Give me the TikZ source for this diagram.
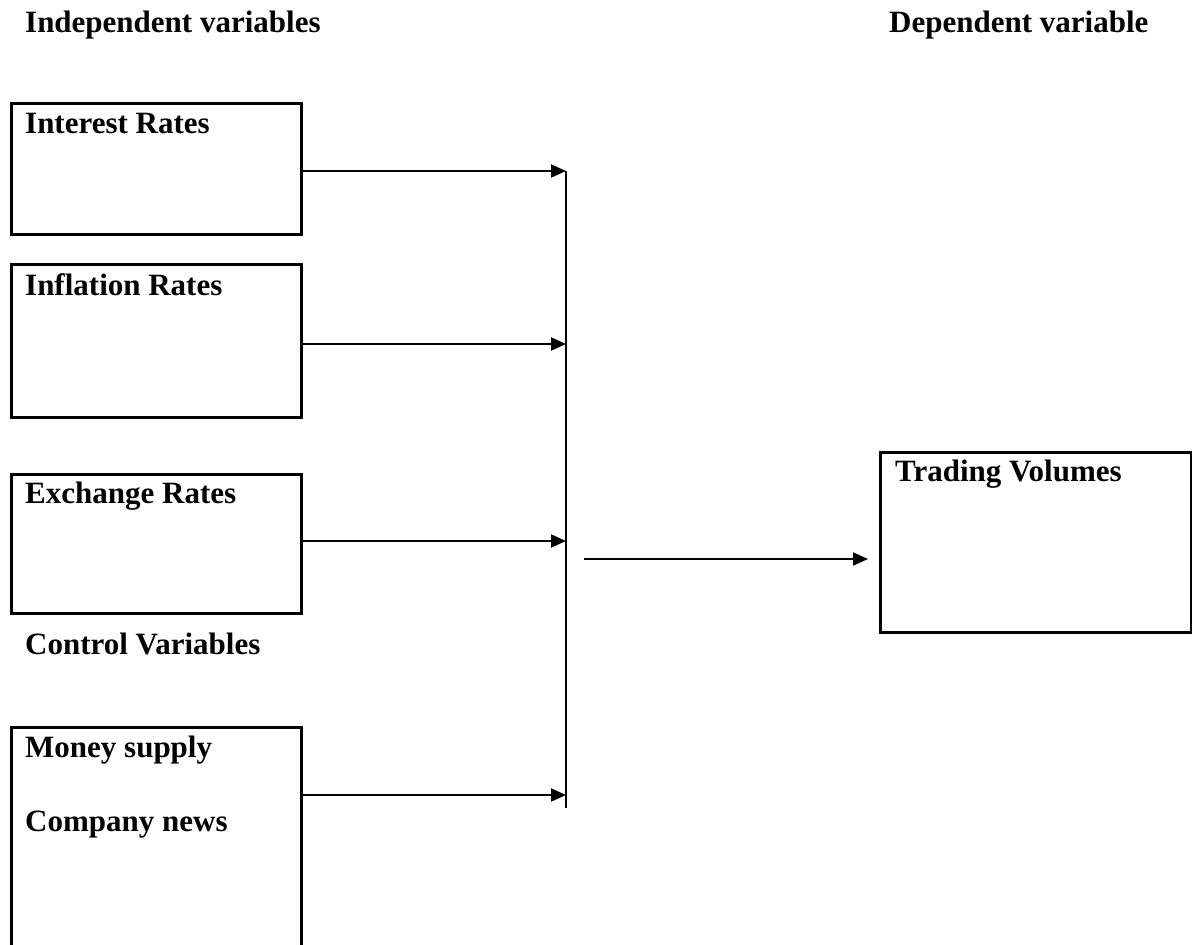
\documentclass[tikz,border=0pt]{standalone}
\usepackage{fontspec}
\setmainfont{Liberation Serif}
\usetikzlibrary{arrows.meta}
\tikzset{
  box/.style={draw, line width=2.5pt, rectangle, minimum width=290pt, inner sep=0pt, anchor=north west},
  lbl/.style={anchor=base west, inner sep=0pt, font=\fontsize{31}{36}\selectfont\bfseries},
  conn/.style={line width=2pt, -{Triangle[length=15pt,width=13pt]}},
  bar/.style={line width=2.2pt}
}
\begin{document}
\begin{tikzpicture}[x=1pt,y=-1pt]
\useasboundingbox (0,0) rectangle (1192,945);
% headers
\node[lbl] (hind) at (25,32) {Independent variables};
\node[lbl] (hdep) at (889,32) {Dependent variable};
% boxes
\node[box, minimum height=131pt] (b1) at (10,102) {};
\node[box, minimum height=153pt] (b2) at (10,263) {};
\node[box, minimum height=139pt] (b3) at (10,473) {};
\node[box, minimum height=240pt] (b4) at (10,726) {};
\node[box, minimum width=311pt, minimum height=180pt] (bt) at (879,451) {};
% box labels
\node[lbl] (t1) at (25,133) {Interest Rates};
\node[lbl] (t2) at (25,295) {Inflation Rates};
\node[lbl] (t3) at (25,503) {Exchange Rates};
\node[lbl] (tc) at (25,654) {Control Variables};
\node[lbl] (t4a) at (25,757) {Money supply};
\node[lbl] (t4b) at (25,831) {Company news};
\node[lbl] (tt) at (895,481) {Trading Volumes};
% collector bar
\coordinate (vtop) at (566,171);
\coordinate (vbot) at (566,808);
\draw[bar] (vtop) -- (vbot);
\coordinate (e1) at (566,171);
\coordinate (e2) at (566,344);
\coordinate (e3) at (566,541);
\coordinate (e4) at (566,795);
\draw[conn] (b1.east |- e1) -- (e1);
\draw[conn] (b2.east |- e2) -- (e2);
\draw[conn] (b3.east |- e3) -- (e3);
\draw[conn] (b4.east |- e4) -- (e4);
\coordinate (ostart) at (584,559);
\coordinate (oend) at (868,559);
\draw[conn] (ostart) -- (oend);
\end{tikzpicture}
\end{document}
